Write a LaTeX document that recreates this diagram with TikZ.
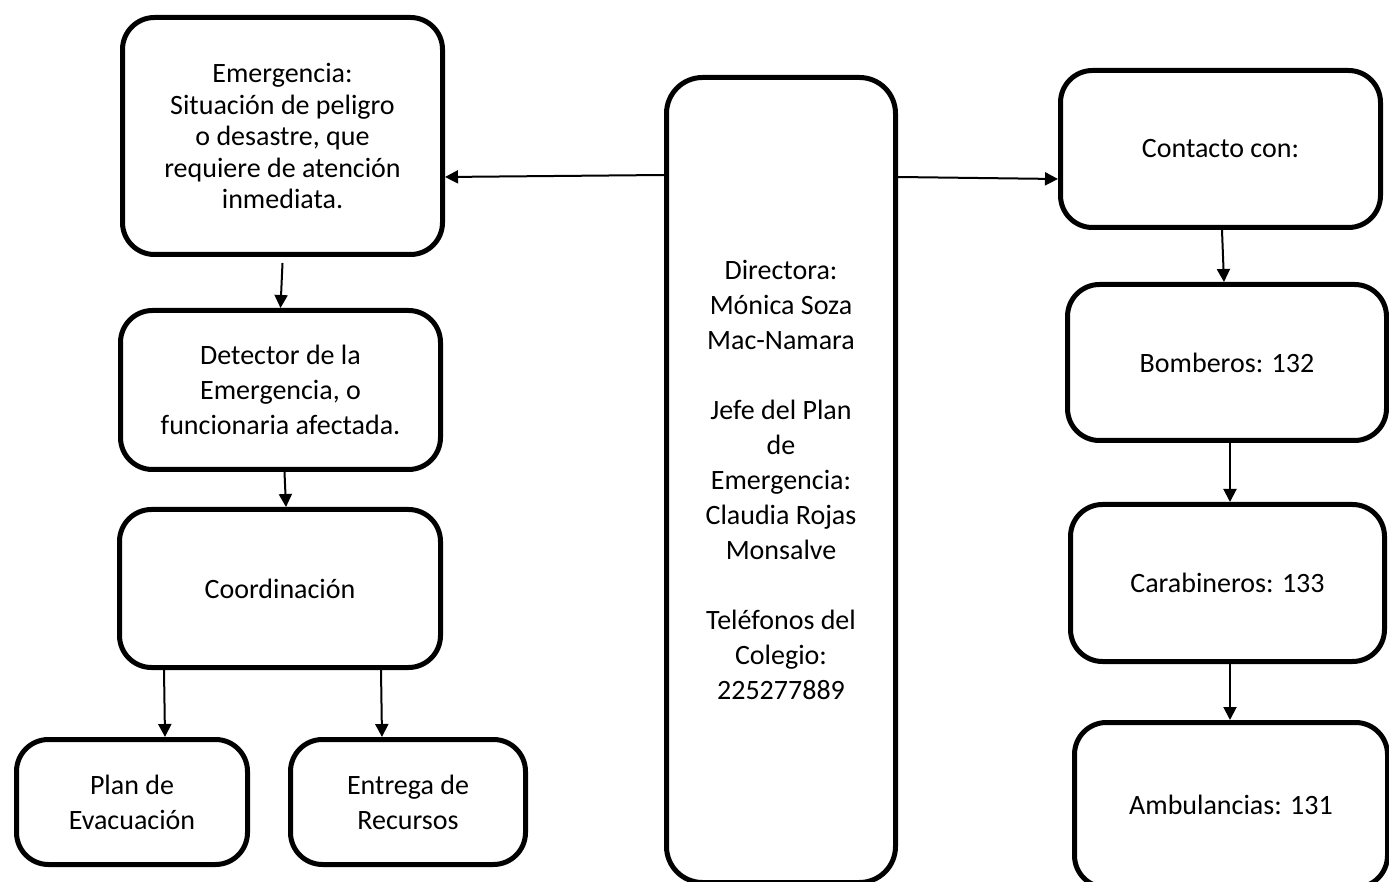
\documentclass[tikz,border=0pt]{standalone}
\usepackage{fontspec}
\setmainfont{Carlito}
\usetikzlibrary{arrows.meta}
\usetikzlibrary{shapes,positioning}

\tikzset{
  caja/.style={draw, line width=2.5pt, rounded corners=16pt, align=center, inner sep=0pt, font=\fontsize{14}{17.5}\selectfont},
  flecha/.style={-{Triangle[length=6.5pt,width=6.5pt]}, line width=1pt},
}

\begin{document}
\begin{tikzpicture}[x=0.5pt,y=-0.5pt]
\useasboundingbox (0,0) rectangle (1389,882);
\clip (0,0) rectangle (1389,882);
% columna izquierda
\node[caja, minimum width=160pt, minimum height=118.5pt, font=\fontsize{14}{15.75}\selectfont] (emer) at (282.5,136) {Emergencia:\\Situación de peligro\\o desastre, que\\requiere de atención\\inmediata.};
\node[caja, minimum width=160pt, minimum height=79.5pt] (det) at (280.5,390) {Detector de la\\Emergencia, o\\funcionaria afectada.};
\node[caja, minimum width=160.5pt, minimum height=79pt] (coord) at (280,588.5) {Coordinación};
\node[caja, minimum width=115.5pt, minimum height=62.5pt] (plan) at (132,802) {Plan de\\Evacuación};
\node[caja, minimum width=117.5pt, minimum height=62.5pt] (entr) at (408,802) {Entrega de\\Recursos};
% columna central
\node[caja, rounded corners=18pt, minimum width=114.5pt, minimum height=402.5pt] (dir) at (781,480) {Directora:\\Mónica Soza\\Mac-Namara\\[17.5pt]Jefe del Plan\\de\\Emergencia:\\Claudia Rojas\\Monsalve\\[17.5pt]Teléfonos del\\Colegio:\\225277889};
% columna derecha
\node[caja, minimum width=160pt, minimum height=78.5pt] (cont) at (1220.5,149) {Contacto con:};
\node[caja, minimum width=159.5pt, minimum height=78pt] (bomb) at (1227,362.5) {Bomberos: 132};
\node[caja, minimum width=157pt, minimum height=78.5pt] (carab) at (1227.5,583) {Carabineros: 133};
\node[caja, minimum width=156.5pt, minimum height=82.5pt] (amb) at (1231,805) {Ambulancias: 131};

\draw[flecha] ([yshift=152.5pt]dir.west) -- ([yshift=-20.5pt]emer.east);
\draw[flecha] ([yshift=151.5pt]dir.east) -- ([yshift=-15pt]cont.west);
\draw[flecha] ([yshift=-3pt]emer.south) -- (det.north);
\draw[flecha] ([xshift=2pt]det.south) -- ([xshift=3pt]coord.north);
\draw[flecha] ([xshift=-58pt]coord.south) -- ([xshift=16.5pt]plan.north);
\draw[flecha] ([xshift=50.5pt]coord.south) -- ([xshift=-13pt]entr.north);
\draw[flecha] ([xshift=0.75pt]cont.south) -- ([xshift=-1.5pt]bomb.north);
\draw[flecha] ([xshift=1.5pt]bomb.south) -- ([xshift=1.25pt]carab.north);
\draw[flecha] ([xshift=1.25pt]carab.south) -- ([xshift=-0.5pt]amb.north);
\end{tikzpicture}
\end{document}
